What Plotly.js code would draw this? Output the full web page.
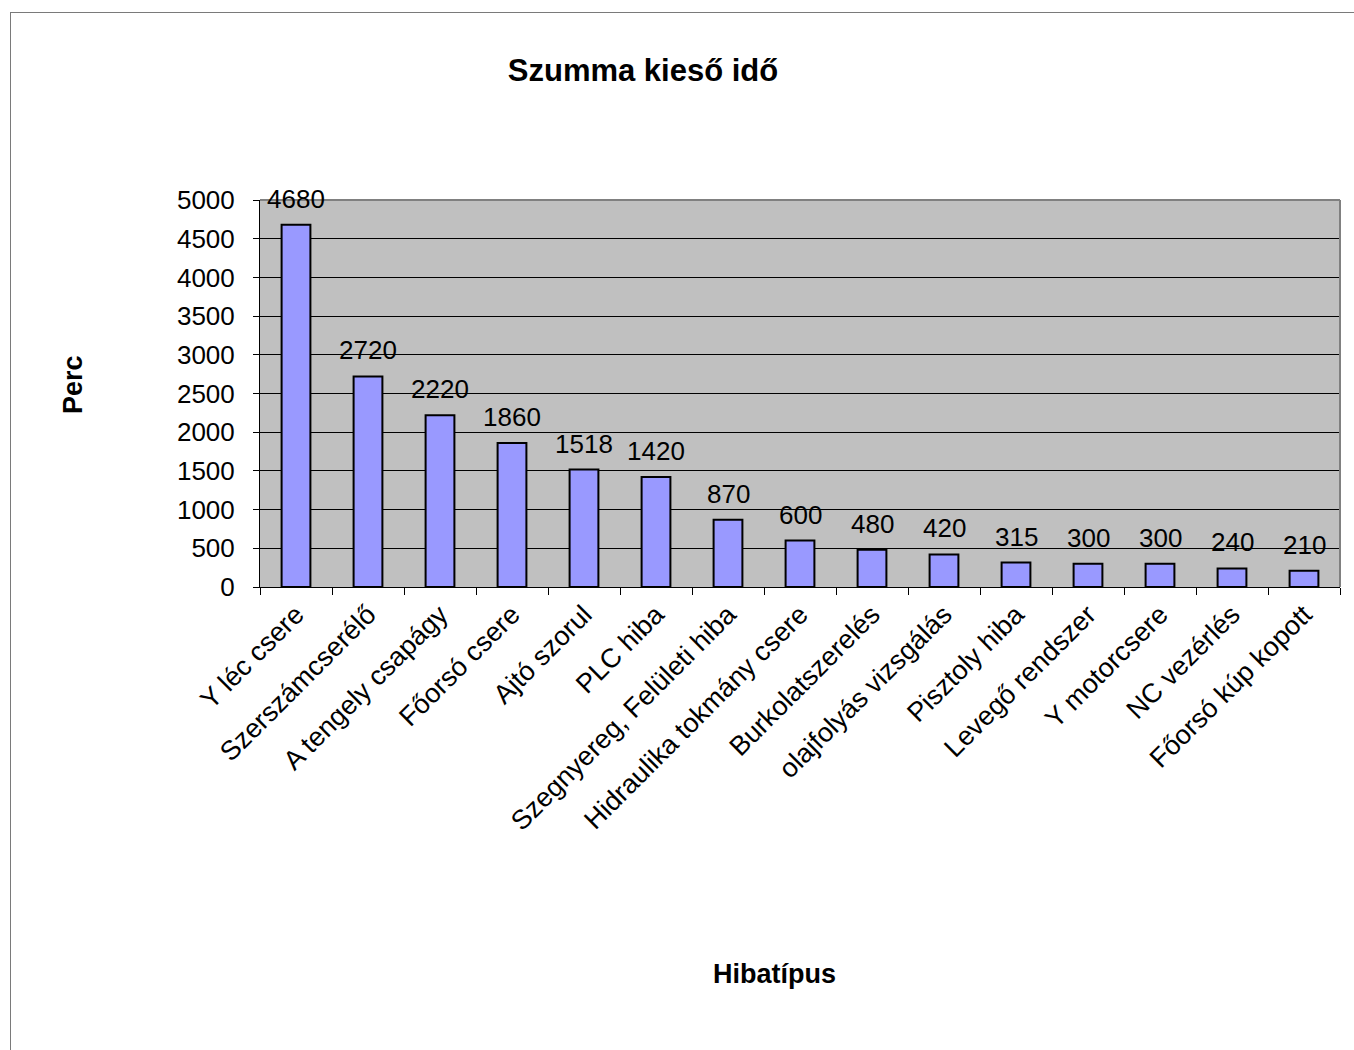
<!DOCTYPE html>
<html>
<head>
<meta charset="utf-8">
<script src="https://cdn.plot.ly/plotly-3.0.1.min.js"></script>
<style>
  html, body { margin: 0; padding: 0; background: #ffffff; overflow: hidden; }
  #frame {
    position: absolute; left: 10px; top: 12px; width: 2000px; height: 2000px;
    border-left: 1px solid #7a7a7a; border-top: 1px solid #7a7a7a;
    pointer-events: none;
  }
  #chart { position: absolute; left: 0; top: 0; width: 1354px; height: 1050px; }
</style>
</head>
<body>
<div id="frame"></div>
<div id="chart"></div>
<script>
// Downtime per fault type (minutes)
const categories = [
  "Y léc csere",
  "Szerszámcserélő",
  "A tengely csapágy",
  "Főorsó csere",
  "Ajtó szorul",
  "PLC hiba",
  "Szegnyereg, Felületi hiba",
  "Hidraulika tokmány csere",
  "Burkolatszerelés",
  "olajfolyás vizsgálás",
  "Pisztoly hiba",
  "Levegő rendszer",
  "Y motorcsere",
  "NC vezérlés",
  "Főorsó kúp kopott"
];
const minutes = [4680, 2720, 2220, 1860, 1518, 1420, 870, 600, 480, 420, 315, 300, 300, 240, 210];
const yTickValues = [0, 500, 1000, 1500, 2000, 2500, 3000, 3500, 4000, 4500, 5000];

const chartTitle = "Szumma kieső idő";
const xTitle = "Hibatípus";
const yTitle = "Perc";

const FONT = "Liberation Sans, Arial, sans-serif";

const W = 1354, H = 1050;
const M = { l: 260, r: 14, t: 200, b: 463 };

const trace = {
  type: "bar",
  x: categories,
  y: minutes,
  width: 0.4,
  marker: { color: "#9999FF", line: { color: "#000000", width: 2 } },
  hoverinfo: "x+y"
};

// value labels above each bar, taken from the same values
const valueLabels = categories.map((c, i) => ({
  x: c, y: minutes[i], xref: "x", yref: "y",
  text: String(minutes[i]),
  showarrow: false, yanchor: "middle", xanchor: "center", yshift: 26,
  font: { family: FONT, size: 26, color: "#000000" }
}));

const layout = {
  width: W, height: H,
  margin: M,
  paper_bgcolor: "rgba(0,0,0,0)",
  plot_bgcolor: "#C0C0C0",
  showlegend: false,
  title: {
    text: "<b>" + chartTitle + "</b>",
    font: { family: FONT, size: 31, color: "#000000" },
    x: 643 / W, xref: "container", xanchor: "center",
    y: 1 - 70 / H, yref: "container", yanchor: "middle"
  },
  xaxis: {
    type: "category",
    tickangle: -45,
    tickson: "boundaries",
    ticks: "outside", ticklen: 7, tickcolor: "#000000", tickwidth: 1,
    showline: true, linecolor: "#000000", linewidth: 1,
    showgrid: false, zeroline: false,
    tickfont: { family: FONT, size: 27, color: "#000000" },
    automargin: false
  },
  yaxis: {
    range: [0, 5000],
    tickvals: yTickValues,
    ticks: "outside", ticklen: 6, tickcolor: "#000000", tickwidth: 1,
    showline: true, linecolor: "#000000", linewidth: 1,
    showgrid: true, gridcolor: "#000000", gridwidth: 1,
    zeroline: false,
    tickfont: { family: FONT, size: 26, color: "#000000" },
    ticklabelstandoff: 13,
    automargin: false
  },
  shapes: [
    // grey frame on the top and right of the plotting area
    { type: "line", xref: "paper", yref: "paper", x0: 0, x1: 1, y0: 1, y1: 1,
      line: { color: "#808080", width: 2 } },
    { type: "line", xref: "paper", yref: "paper", x0: 1, x1: 1, y0: 0, y1: 1,
      line: { color: "#808080", width: 2 } }
  ],
  annotations: valueLabels.concat([
    { text: "<b>" + xTitle + "</b>", xref: "paper", yref: "paper",
      x: (774 - M.l) / (W - M.l - M.r), y: (H - M.b - 974) / (H - M.t - M.b),
      xanchor: "center", yanchor: "middle", showarrow: false,
      font: { family: FONT, size: 27, color: "#000000" } },
    { text: "<b>" + yTitle + "</b>", xref: "paper", yref: "paper",
      x: (73 - M.l) / (W - M.l - M.r), y: (H - M.b - 385) / (H - M.t - M.b),
      xanchor: "center", yanchor: "middle", showarrow: false, textangle: -90,
      font: { family: FONT, size: 27, color: "#000000" } }
  ])
};

Plotly.newPlot("chart", [trace], layout, { displayModeBar: false, staticPlot: true });
</script>
</body>
</html>
